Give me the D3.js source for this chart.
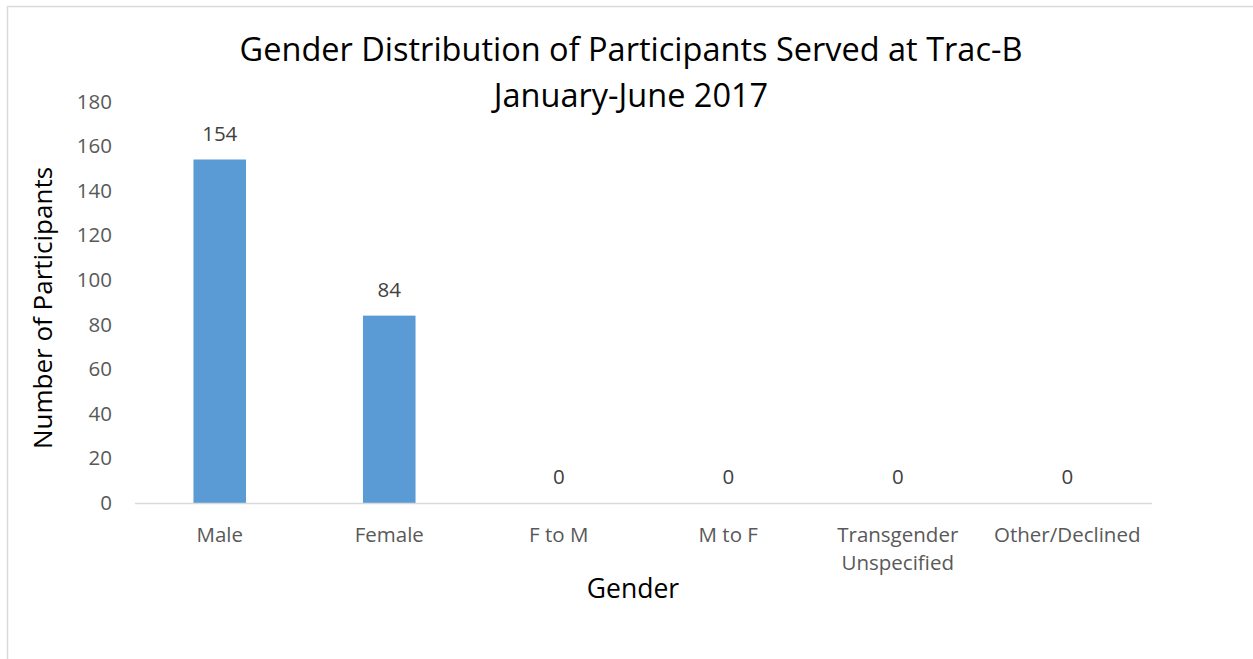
<!DOCTYPE html>
<html>
<head>
<meta charset="utf-8">
<script src="https://cdn.jsdelivr.net/npm/d3@7"></script>
<style>
  body { margin: 0; background: #fff; }
  svg text { font-family: "Open Sans", sans-serif; }
</style>
</head>
<body>
<script>
// data
var categories = ["Male", "Female", "F to M", "M to F", "Transgender Unspecified", "Other/Declined"];
var participants = [154, 84, 0, 0, 0, 0];
var yTicks = [0, 20, 40, 60, 80, 100, 120, 140, 160, 180];

var width = 1253, height = 659;
var margin = {top: 101.5, right: 101, bottom: 156, left: 135};
var w = width - margin.left - margin.right;
var h = height - margin.top - margin.bottom;

var svg = d3.select("body").append("svg")
    .attr("width", width)
    .attr("height", height);

// chart border
svg.append("rect")
    .attr("x", 7.5).attr("y", 6.5)
    .attr("width", 1300).attr("height", 700)
    .attr("fill", "none")
    .attr("stroke", "#d9d9d9")
    .attr("stroke-width", 1.5);

var g = svg.append("g")
    .attr("transform", "translate(" + margin.left + "," + margin.top + ")");

var x = d3.scaleBand().domain(categories).range([0, w]).padding(0);
var y = d3.scaleLinear().domain([0, 180]).range([h, 0]);
var barW = x.bandwidth() * 0.31;

// y axis labels (no line)
var yAxis = g.append("g").call(d3.axisLeft(y).tickValues(yTicks).tickSize(0).tickPadding(23));
yAxis.select(".domain").remove();
yAxis.selectAll("text")
    .style("font-size", "20.5px")
    .attr("fill", "#595959");

// bars
g.selectAll(".bar")
    .data(participants)
    .enter().append("rect")
    .attr("class", "bar")
    .attr("x", function(d, i) { return x(categories[i]) + (x.bandwidth() - barW) / 2; })
    .attr("y", function(d) { return y(d); })
    .attr("width", barW)
    .attr("height", function(d) { return h - y(d); })
    .attr("fill", "#5b9bd5");

// baseline
g.append("line")
    .attr("x1", 0).attr("x2", w)
    .attr("y1", h + 0.5).attr("y2", h + 0.5)
    .attr("stroke", "#d9d9d9")
    .attr("stroke-width", 1.5);

// value labels
g.selectAll(".val")
    .data(participants)
    .enter().append("text")
    .attr("class", "val")
    .attr("x", function(d, i) { return x(categories[i]) + x.bandwidth() / 2; })
    .attr("y", function(d) { return y(d) - 26; })
    .attr("dy", "0.35em")
    .attr("text-anchor", "middle")
    .style("font-size", "20.5px")
    .attr("fill", "#404040")
    .text(function(d) { return d; });

// x category labels, wrapped
var words = {"Transgender Unspecified": ["Transgender", "Unspecified"]};
g.selectAll(".cat")
    .data(categories)
    .enter().append("text")
    .attr("class", "cat")
    .attr("text-anchor", "middle")
    .style("font-size", "20.5px")
    .attr("fill", "#595959")
    .each(function(d) {
        var lines = words[d] || [d];
        var t = d3.select(this);
        lines.forEach(function(l, j) {
            t.append("tspan")
                .attr("x", x(d) + x.bandwidth() / 2)
                .attr("y", h + 32 + j * 28)
                .attr("dy", "0.35em")
                .text(l);
        });
    });

// titles
svg.append("text")
    .attr("x", 631).attr("y", 50).attr("dy", "0.35em")
    .attr("text-anchor", "middle")
    .style("font-size", "32.5px")
    .attr("fill", "#000")
    .text("Gender Distribution of Participants Served at Trac-B");
svg.append("text")
    .attr("x", 631).attr("y", 96).attr("dy", "0.35em")
    .attr("text-anchor", "middle")
    .style("font-size", "32.5px")
    .attr("fill", "#000")
    .text("January-June 2017");

svg.append("text")
    .attr("x", 633).attr("y", 589).attr("dy", "0.35em")
    .attr("text-anchor", "middle")
    .style("font-size", "26.5px")
    .attr("fill", "#000")
    .text("Gender");

svg.append("text")
    .attr("transform", "translate(43,308) rotate(-90)")
    .attr("dy", "0.35em")
    .attr("text-anchor", "middle")
    .style("font-size", "26px")
    .attr("fill", "#000")
    .text("Number of Participants");
</script>
</body>
</html>
